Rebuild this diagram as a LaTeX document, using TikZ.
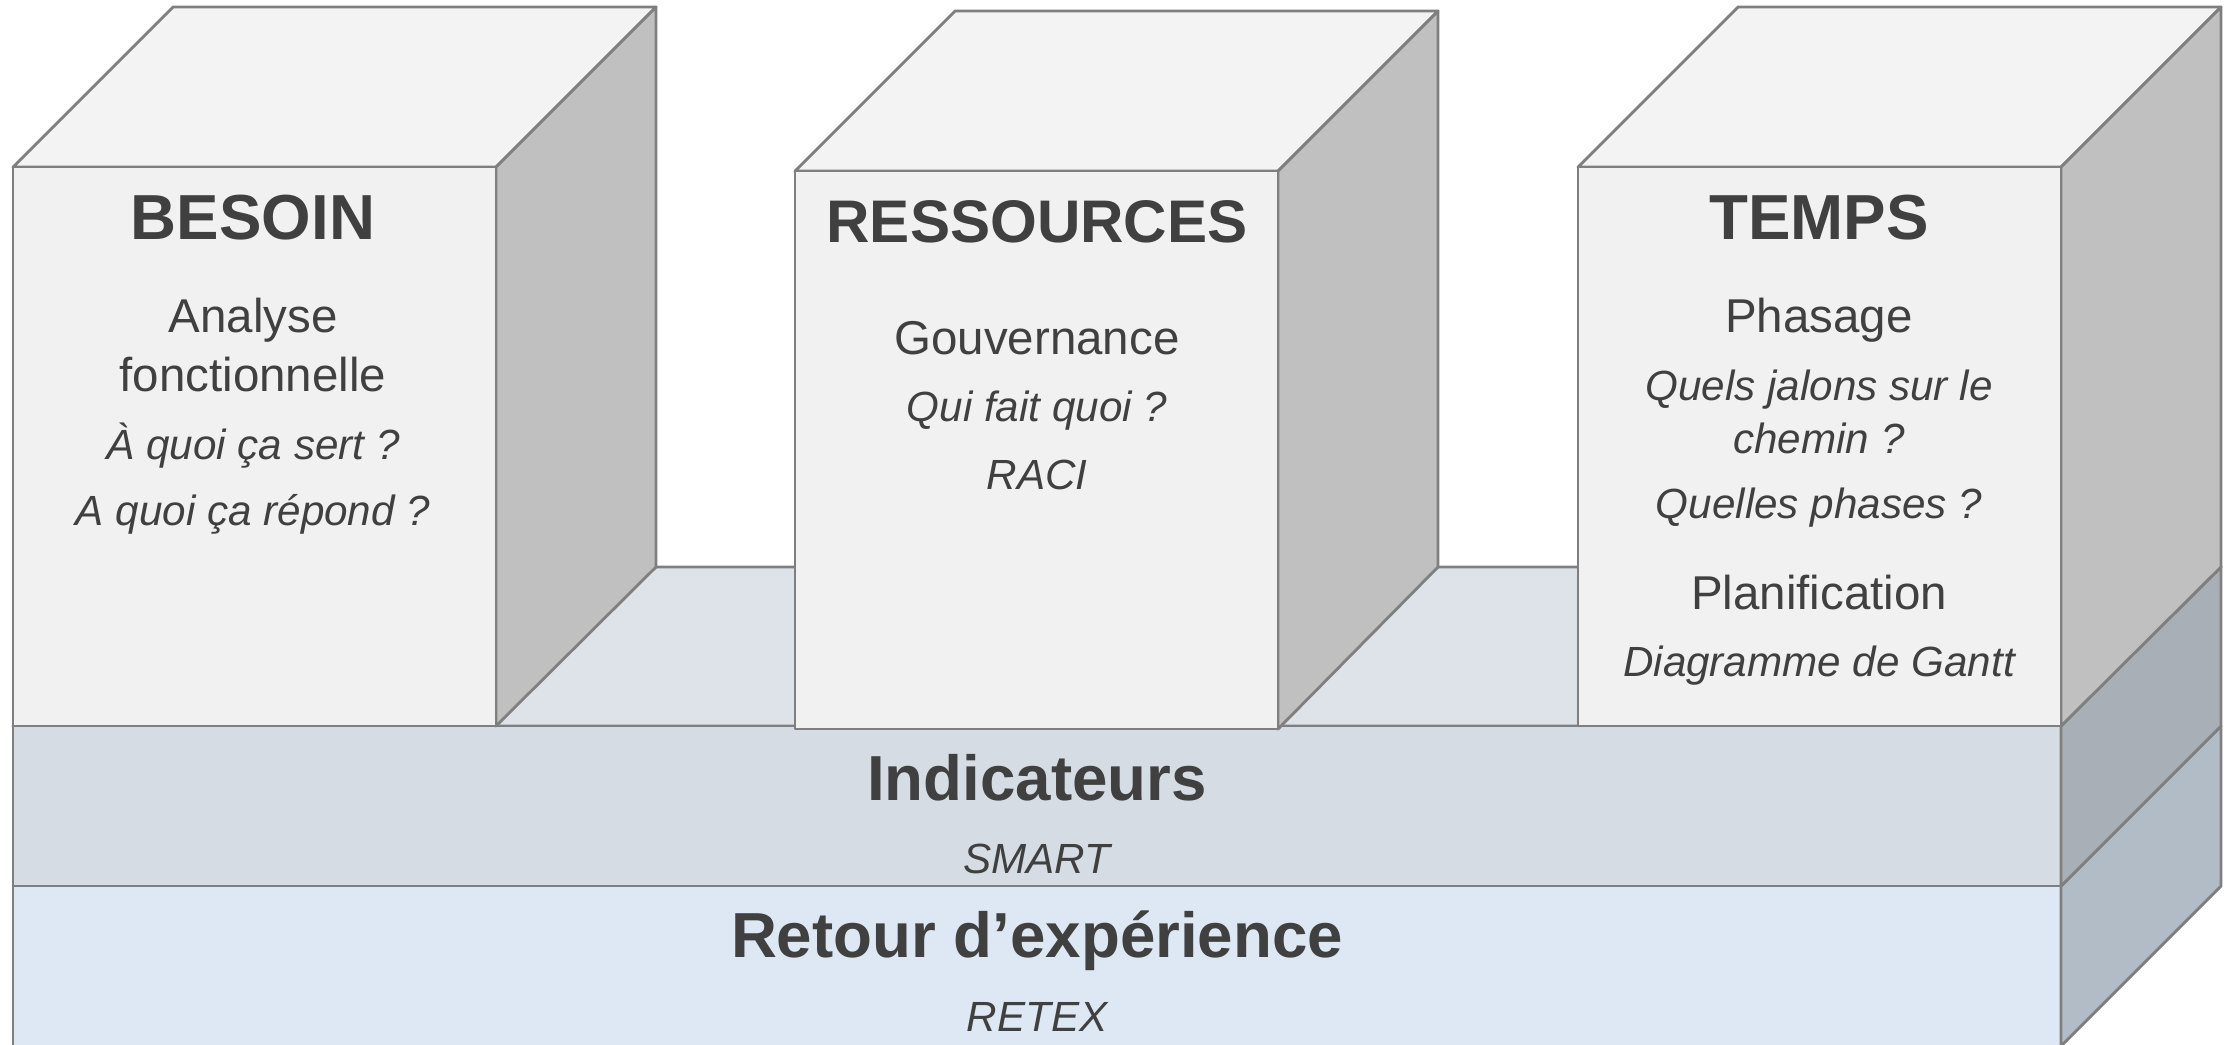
\documentclass[tikz,border=0pt]{standalone}
\usepackage{fontspec}
\setmainfont{Liberation Sans}
\usetikzlibrary{positioning}

\definecolor{edgegray}{HTML}{7F7F7F}
\definecolor{txtgray}{HTML}{404040}
\definecolor{cubefront}{HTML}{F1F1F1}
\definecolor{cubetop}{HTML}{F3F3F3}
\definecolor{cubeside}{HTML}{C0C0C0}
\definecolor{floortop}{HTML}{DEE2E9}
\definecolor{indfront}{HTML}{D5DCE4}
\definecolor{indside}{HTML}{A9AFB7}
\definecolor{retfront}{HTML}{DEE8F4}
\definecolor{retside}{HTML}{B2BCC6}

\begin{document}
\begin{tikzpicture}[
    x=0.01cm, y=-0.01cm,
    face/.style={draw=edgegray, line width=0.8pt, line join=round},
    title/.style={text=txtgray, font=\fontsize{18.1}{20}\selectfont\bfseries},
    label/.style={text=txtgray, font=\fontsize{13.5}{16}\selectfont},
    note/.style={text=txtgray, font=\fontsize{12}{14}\selectfont\itshape}
]

    \useasboundingbox (0,0) rectangle (2233,1044);

    % Floor ------------------------------------------------------

    \fill[floortop, face] (13,726) -- (173,567) -- (2221,567) -- (2061,726) -- cycle;

    % Layers -----------------------------------------------------

    \fill[retfront, face] (13,886) rectangle (2061,1050);
    \fill[retside, face] (2061,886) -- (2221,726) -- (2221,886) -- (2061,1046) -- cycle;
    \fill[indfront, face] (13,726) rectangle (2061,886);
    \fill[indside, face] (2061,726) -- (2221,567) -- (2221,726) -- (2061,886) -- cycle;

    % Cubes ------------------------------------------------------

    \foreach \x/\y/\b in {13/167/726, 795/171/729, 1578/167/726} {
        \fill[cubetop, face] (\x,\y) -- (\x+160,\y-160) -- (\x+643,\y-160) -- (\x+483,\y) -- cycle;
        \fill[cubeside, face] (\x+483,\y) -- (\x+643,\y-160) -- (\x+643,567) -- (\x+483,\b) -- cycle;
        \fill[cubefront, face] (\x,\y) rectangle (\x+483,\b);
    }

    % Nodes ------------------------------------------------------

    \node[title] (besoin) at (253,218) {BESOIN};
    \node[label] (analyse) at (253,320) {Analyse};
    \node[label] (fonct) at (253,375) {fonctionnelle};
    \node[note] (sert) at (253,446) {À quoi ça sert ?};
    \node[note] (repond) at (253,514) {A quoi ça répond ?};

    \node[title, font=\fontsize{17.1}{20}\selectfont\bfseries] (ressources) at (1037,222) {RESSOURCES};
    \node[label] (gouv) at (1037,338) {Gouvernance};
    \node[note] (qui) at (1037,411) {Qui fait quoi ?};
    \node[note] (raci) at (1037,475) {RACI};

    \node[title] (temps) at (1819,218) {TEMPS};
    \node[label] (phasage) at (1819,320) {Phasage};
    \node[note] (jalons) at (1819,390) {Quels jalons sur le};
    \node[note] (chemin) at (1819,438) {chemin ?};
    \node[note] (phases) at (1819,508) {Quelles phases ?};
    \node[label] (planif) at (1819,593) {Planification};
    \node[note] (gantt) at (1819,666) {Diagramme de Gantt};

    \node[title] (indic) at (1037,778) {Indicateurs};
    \node[note] (smart) at (1037,859) {SMART};

    \node[title] (retour) at (1037,941) {Retour d’expérience};
    \node[note] (retex) at (1037,1017) {RETEX};

\end{tikzpicture}
\end{document}
